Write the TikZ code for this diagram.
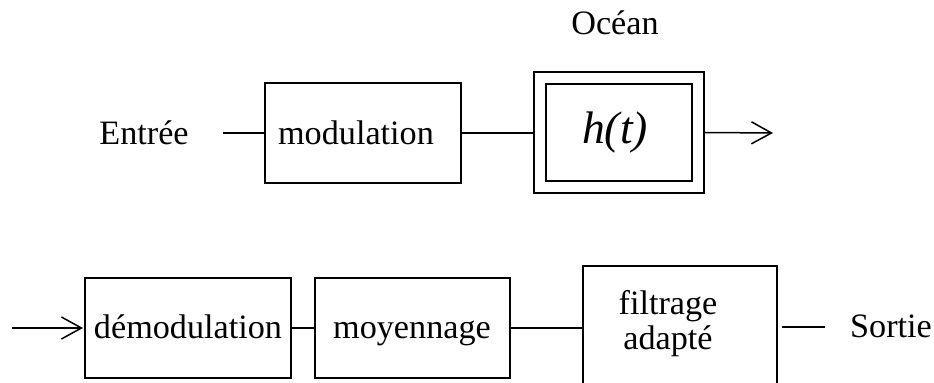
\documentclass[tikz,border=0pt]{standalone}
\usepackage{fontspec}
\setmainfont{Liberation Serif}
\usetikzlibrary{arrows.meta}
\begin{document}
\begin{tikzpicture}[x=0.5pt,y=-0.5pt,
  line width=0.75pt,
  every node/.style={inner sep=0pt,outer sep=0pt,font=\fontsize{17.1}{19}\selectfont},
  block/.style={draw,minimum width=#1*0.5pt},
  blockh/.style={minimum height=#1*0.5pt},
  label text/.style={anchor=base},
  openarrow/.style={-{Straight Barb[length=10pt,width=11pt,line width=0.75pt]}}]
\clip (0,0) rectangle (934,383);
\useasboundingbox (0,0) rectangle (934,383);

% upper chain: emission
\node[block=196,blockh=100] (mod) at (363,133) {};
\node[block=170,blockh=121] (ocean) at (619,132.5) {};
\node[block=146,blockh=97] (oceanin) at (619,132.5) {};
\node[label text] (entree) at (144,145) {Entrée};
\node[label text] (modtxt) at (356,145) {modulation};
\node[label text,font=\fontsize{22.8}{24}\selectfont\itshape] (htxt) at (615,144) {h(t)};
\node[label text] (oceanlbl) at (615,35) {Océan};
\coordinate (in0) at (223,133);
\coordinate (out0) at (773,133);
\draw (in0) -- (mod.west);
\draw (mod.east) -- (mod.east -| ocean.west);
\draw[openarrow] (ocean.east) -- (out0);

% lower chain: reception
\coordinate (in1) at (12,328);
\coordinate (tip1) at (83,328);
\node[block=206,blockh=100] (demod) at (188,328) {};
\node[block=195,blockh=100] (moy) at (412.5,328) {};
\node[block=194,blockh=134] (filt) at (680,333) {};
\node[label text] (demodtxt) at (188,339) {démodulation};
\node[label text] (moytxt) at (412,339) {moyennage};
\node[label text] (filttxt1) at (668,315) {filtrage};
\node[label text] (filttxt2) at (668,350) {adapté};
\node[label text] (sortie) at (891,338) {Sortie};
\coordinate (s0) at (782,327);
\coordinate (s1) at (825,327);
\draw[openarrow] (in1) -- (tip1);
\draw (demod.east) -- (moy.west);
\draw (moy.east) -- (moy.east -| filt.west);
\draw (s0) -- (s1);
\end{tikzpicture}
\end{document}
